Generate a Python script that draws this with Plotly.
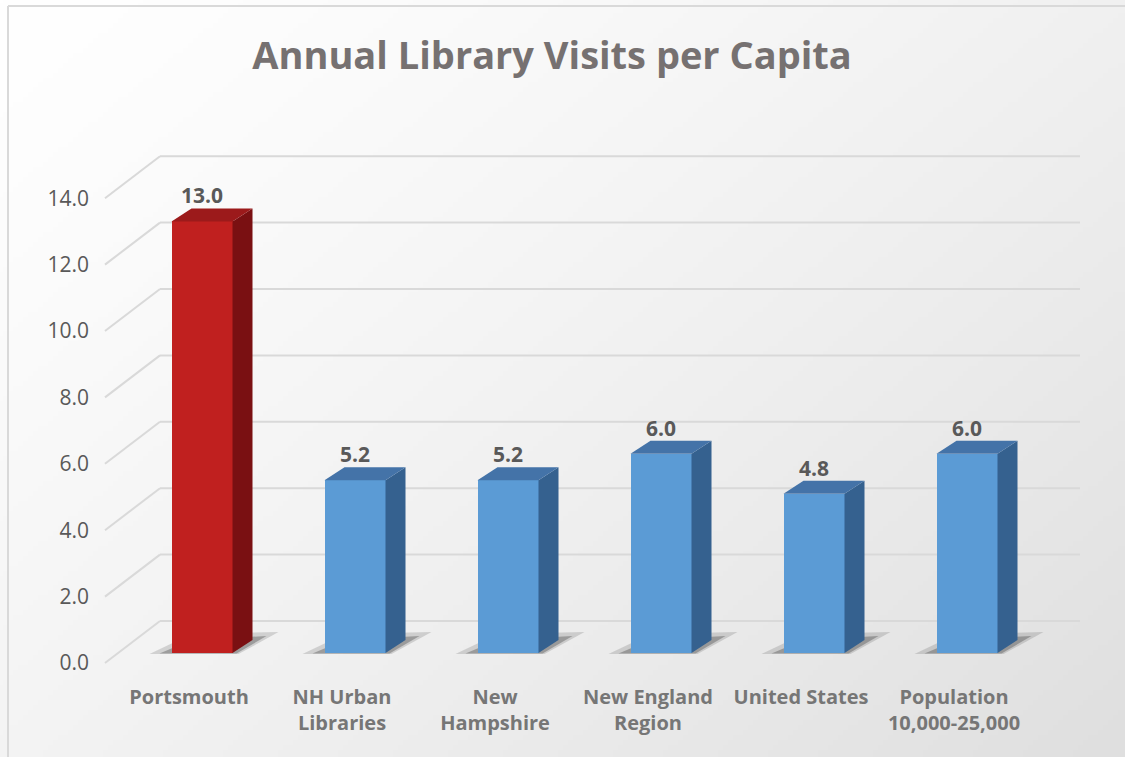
import numpy as np
import zlib, struct, base64
import plotly.graph_objects as go

# ---------------- data ----------------
categories = ["Portsmouth", "NH Urban<br>Libraries", "New<br>Hampshire",
              "New England<br>Region", "United States", "Population<br>10,000-25,000"]
values = [13.0, 5.2, 5.2, 6.0, 4.8, 6.0]
y_ticks = [0, 2, 4, 6, 8, 10, 12, 14]
y_tick_labels = ["0.0", "2.0", "4.0", "6.0", "8.0", "10.0", "12.0", "14.0"]
title_text = "Annual Library Visits per Capita"

# ---------------- styling / geometry ----------------
W, H = 1125, 757
ML, MR, MT, MB = 100, 35, 100, 77
PW, PH = W - ML - MR, H - MT - MB
PXX = 153.0      # px per category unit
PXY = 33.2       # px per value unit
X0_PX = 189.0    # pixel of category 0 (front plane)
Y0_PX = 663.0    # pixel of value 0 (front plane)

xr = [(ML - X0_PX) / PXX, (ML + PW - X0_PX) / PXX]
yr = [-((MT + PH) - Y0_PX) / PXY, (Y0_PX - MT) / PXY]

def dxu(px): return px / PXX
def dyu(px): return px / PXY

front_cols = ["#C0201F"] + ["#5B9BD5"] * 5
side_cols = ["#7A1012"] + ["#35618F"] * 5
top_cols = ["#9C1A1B"] + ["#4473A8"] * 5

bar_off = dxu(13)      # bar shift (depth) relative to front plane
bar_base = dyu(10)
half_w = dxu(30.5)
ddx, ddy = dxu(20), dyu(13)  # bar depth
wall_dx, wall_dy = dxu(55), dyu(42)  # wall depth

# ---------------- background gradient image ----------------
def make_png(arr):
    h, w = arr.shape
    raw = b"".join(b"\x00" + arr[r].astype(np.uint8).tobytes() for r in range(h))
    def chunk(tag, data):
        return struct.pack(">I", len(data)) + tag + data + struct.pack(">I", zlib.crc32(tag + data) & 0xffffffff)
    png = (b"\x89PNG\r\n\x1a\n" + chunk(b"IHDR", struct.pack(">IIBBBBB", w, h, 8, 0, 0, 0, 0))
           + chunk(b"IDAT", zlib.compress(raw, 9)) + chunk(b"IEND", b""))
    return "data:image/png;base64," + base64.b64encode(png).decode()

gw, gh = 225, 152
gx, gy = np.meshgrid(np.linspace(0, 1, gw), np.linspace(0, 1, gh))
t = np.clip(gx * 0.55 + gy * 0.45, 0, 1)
bg = 255 - 32 * t ** 1.3

fig = go.Figure()

# ---------------- shapes: gridlines, shadows, border ----------------
shapes = []
grid_col = "#D9D9D9"
x_front_left = (105 - X0_PX) / PXX
x_back_right = (1080 - X0_PX) / PXX
for v in y_ticks:
    shapes.append(dict(type="line", xref="x", yref="y", x0=x_front_left, y0=v,
                       x1=x_front_left + wall_dx, y1=v + wall_dy,
                       line=dict(color=grid_col, width=2), layer="below"))
    shapes.append(dict(type="line", xref="x", yref="y", x0=x_front_left + wall_dx, y0=v + wall_dy,
                       x1=x_back_right, y1=v + wall_dy,
                       line=dict(color=grid_col, width=2), layer="below"))

for i, v in enumerate(values):
    xl = i + bar_off - half_w
    xrr = i + bar_off + half_w
    b = bar_base
    path_big = (f"M {xl - dxu(22)},{b - dyu(1)} L {xrr + dxu(6)},{b - dyu(1)} "
                f"L {xrr + ddx + dxu(26)},{b + ddy + dyu(8)} L {xl + ddx},{b + ddy + dyu(6)} Z")
    path_small = (f"M {xl - dxu(12)},{b - dyu(0.5)} L {xrr + dxu(4)},{b - dyu(0.5)} "
                  f"L {xrr + ddx + dxu(14)},{b + ddy + dyu(4)} L {xl + ddx},{b + ddy} Z")
    shapes.append(dict(type="path", xref="x", yref="y", path=path_big,
                       fillcolor="rgba(90,90,90,0.22)", line=dict(width=0), layer="below"))
    shapes.append(dict(type="path", xref="x", yref="y", path=path_small,
                       fillcolor="rgba(60,60,60,0.35)", line=dict(width=0), layer="below"))

bx = (8 - ML) / PW
by_top = 1 + (MT - 6) / PH
by_bot = -MB / PH
shapes.append(dict(type="line", xref="paper", yref="paper", x0=bx, y0=by_top, x1=bx, y1=by_bot,
                   line=dict(color="#D9D9D9", width=2)))
shapes.append(dict(type="line", xref="paper", yref="paper", x0=bx, y0=by_top, x1=(W - ML) / PW, y1=by_top,
                   line=dict(color="#D9D9D9", width=2)))

# ---------------- bars (front faces) ----------------
bar_x = [i + bar_off for i in range(len(values))]
fig.add_trace(go.Bar(x=bar_x, y=values, base=[bar_base] * len(values), width=2 * half_w,
                     marker=dict(color=front_cols, line=dict(width=0)),
                     hoverinfo="skip", showlegend=False))

# side and top faces
for i, v in enumerate(values):
    xl = i + bar_off - half_w
    xrr = i + bar_off + half_w
    b = bar_base
    tp = bar_base + v
    fig.add_trace(go.Scatter(x=[xrr, xrr + ddx, xrr + ddx, xrr, xrr],
                             y=[b, b + ddy, tp + ddy, tp, b],
                             fill="toself", fillcolor=side_cols[i], mode="lines",
                             line=dict(width=0, color=side_cols[i]),
                             hoverinfo="skip", showlegend=False))
    fig.add_trace(go.Scatter(x=[xl, xl + ddx, xrr + ddx, xrr, xl],
                             y=[tp, tp + ddy, tp + ddy, tp, tp],
                             fill="toself", fillcolor=top_cols[i], mode="lines",
                             line=dict(width=0, color=top_cols[i]),
                             hoverinfo="skip", showlegend=False))

# data labels
annotations = []
for i, v in enumerate(values):
    annotations.append(dict(x=i + bar_off, y=bar_base + v + ddy, xref="x", yref="y",
                            text=f"{v:.1f}", showarrow=False, yanchor="bottom", yshift=-3,
                            font=dict(family="Open Sans", size=21, color="#595959", weight="bold")))

fig.update_layout(
    width=W, height=H,
    margin=dict(l=ML, r=MR, t=MT, b=MB),
    paper_bgcolor="white",
    plot_bgcolor="rgba(0,0,0,0)",
    title=dict(text=title_text, x=552 / W, y=1 - 56 / H, xanchor="center", yanchor="middle",
               font=dict(family="Open Sans", size=38, color="#767171", weight="bold")),
    xaxis=dict(range=xr, tickvals=list(range(len(categories))), ticktext=categories,
               showgrid=False, zeroline=False, showline=False, ticks="",
               ticklabelstandoff=3,
               tickfont=dict(family="Open Sans", size=20, color="#767676", weight="bold"),
               fixedrange=True),
    yaxis=dict(range=yr, tickvals=y_ticks, ticktext=y_tick_labels,
               showgrid=False, zeroline=False, showline=False, ticks="",
               ticklabelstandoff=10,
               tickfont=dict(family="Open Sans", size=21, color="#595959"),
               fixedrange=True),
    shapes=shapes,
    annotations=annotations,
    images=[dict(source=make_png(bg), xref="paper", yref="paper",
                 x=-ML / PW, y=1 + MT / PH, sizex=W / PW, sizey=H / PH,
                 xanchor="left", yanchor="top", sizing="stretch", layer="below")],
    bargap=0,
)

fig.write_html("out.html")
